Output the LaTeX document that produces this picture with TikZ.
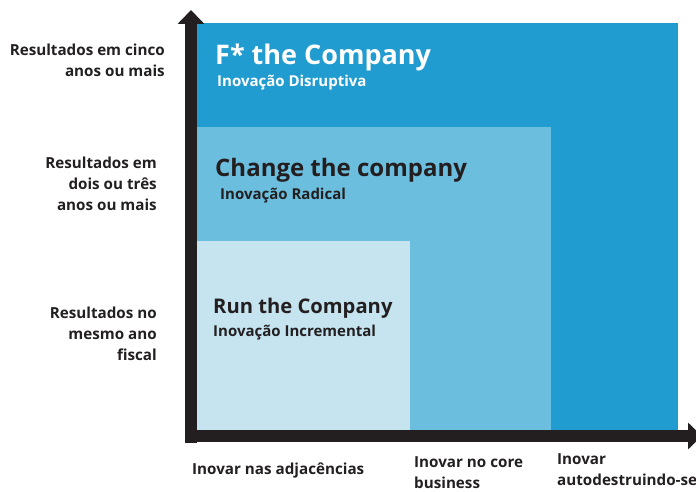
\documentclass[tikz,border=0pt]{standalone}
\usepackage{fontspec}
\setmainfont{Open Sans}
\usepackage{tikz}
\usetikzlibrary{arrows.meta, positioning}
\definecolor{zonedark}{RGB}{33, 156, 208}
\definecolor{zonemid}{RGB}{107, 190, 222}
\definecolor{zonelight}{RGB}{197, 228, 240}
\definecolor{inkgray}{RGB}{35, 31, 32}
\tikzset{
    title/.style = {anchor=base west, inner sep=0pt, font=\bfseries\fontsize{27}{30}\selectfont},
    subtitle/.style = {anchor=base west, inner sep=0pt, font=\bfseries\fontsize{15}{18}\selectfont},
    ylabel/.style = {anchor=east, align=right, inner sep=0pt, text=inkgray, font=\bfseries\fontsize{15.2}{21}\selectfont},
    xlabel/.style = {anchor=north west, align=left, inner sep=0pt, text=inkgray, font=\bfseries\fontsize{15.2}{21}\selectfont},
    axis/.style = {line width=12pt, draw=inkgray, -{Triangle[width=26pt, length=14pt]}}
}

\begin{document}
\begin{tikzpicture}[x=1pt, y=-1pt]
\useasboundingbox (0,0) rectangle (696,492);

% Zones
\fill[zonedark] (197,23) rectangle (678,430);
\fill[zonemid] (197,127) rectangle (551,430);
\fill[zonelight] (197,241) rectangle (410,430);

% Zone titles
\node (fthe) [title, text=white] at (215,65) {F* the Company};
\node (fsub) [subtitle, text=white] at (217,87) {Inovação Disruptiva};
\node (change) [title, text=inkgray, font=\bfseries\fontsize{24}{27}\selectfont] at (215,176) {Change the company};
\node (changesub) [subtitle, text=inkgray] at (220,199) {Inovação Radical};
\node (run) [title, text=inkgray, font=\bfseries\fontsize{20.2}{24}\selectfont] at (213,313) {Run the Company};
\node (runsub) [subtitle, text=inkgray] at (213,336) {Inovação Incremental};

% Axis labels
\node (y5) [ylabel] at (165,60) {Resultados em cinco\\anos ou mais};
\node (y2) [ylabel] at (157,184) {Resultados em\\dois ou três\\anos ou mais};
\node (y0) [ylabel] at (157,334) {Resultados no\\mesmo ano\\fiscal};
\node (xadj) [xlabel] at (192,463) {Inovar nas adjacências};
\node (xcore) [xlabel] at (414,456) {Inovar no core\\business};
\node (xself) [xlabel] at (557,453) {Inovar\\autodestruindo-se};

% Axes
\coordinate (origin) at (191,443);
\coordinate (ytop) at (191,10);
\coordinate (xleft) at (185,436);
\coordinate (xright) at (702,436);
\draw [axis] (origin) -- (ytop);
\draw [axis] (xleft) -- (xright);

\end{tikzpicture}
\end{document}
